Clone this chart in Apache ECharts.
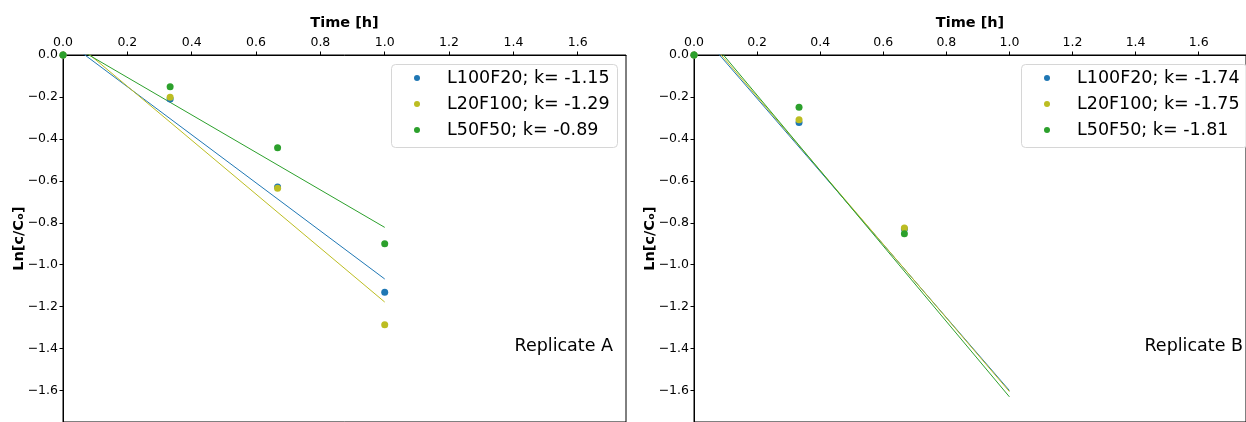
<!DOCTYPE html>
<html>
<head>
<meta charset="utf-8">
<script src="https://cdn.jsdelivr.net/npm/echarts@6/dist/echarts.min.js"></script>
<style>
html,body{margin:0;padding:0;background:#fff;}
#c{width:1246px;height:422px;}
</style>
</head>
<body>
<div id="c"></div>
<script>
// ---- data ----
const times = [0, 0.333, 0.667, 1.0];
const names = ['L100F20', 'L20F100', 'L50F50'];
const colors = ['#1f77b4', '#bcbd22', '#2ca02c'];
const xTicks = [0.0, 0.2, 0.4, 0.6, 0.8, 1.0, 1.2, 1.4, 1.6];
const yTicks = [0.0, -0.2, -0.4, -0.6, -0.8, -1.0, -1.2, -1.4, -1.6];

// Replicate A
const kA = ['-1.15', '-1.29', '-0.89'];
const ptsA_L100F20 = [0, -0.21, -0.629, -1.131];
const ptsA_L20F100 = [0, -0.202, -0.635, -1.286];
const ptsA_L50F50  = [0, -0.151, -0.442, -0.900];
const fitTimes = [0, 1.0];
const fitA_L100F20 = [0.078, -1.068];
const fitA_L20F100 = [0.108, -1.178];
const fitA_L50F50  = [0.072, -0.822];

// Replicate B (points at t=1 fall below the visible range)
const kB = ['-1.74', '-1.75', '-1.81'];
const timesB = [0, 0.333, 0.667];
const ptsB_L100F20 = [0, -0.322, -0.830];
const ptsB_L20F100 = [0, -0.309, -0.825];
const ptsB_L50F50  = [0, -0.249, -0.852];
const fitB_L100F20 = [0.141, -1.600];
const fitB_L20F100 = [0.152, -1.605];
const fitB_L50F50  = [0.168, -1.630];

const panels = [
  {k: kA, t: times, pts: [ptsA_L100F20, ptsA_L20F100, ptsA_L50F50],
   fit: [fitA_L100F20, fitA_L20F100, fitA_L50F50], label: 'Replicate A'},
  {k: kB, t: timesB, pts: [ptsB_L100F20, ptsB_L20F100, ptsB_L50F50],
   fit: [fitB_L100F20, fitB_L20F100, fitB_L50F50], label: 'Replicate B'}
];

const FONT = 'DejaVu Sans';
const gridLefts = [63, 694];
const boxLefts = [391, 1021];
const fmt = v => (v < 0 ? '\u2212' : '') + Math.abs(v).toFixed(1);

const grids = [], xAxes = [], yAxes = [], series = [], legends = [], graphics = [];
panels.forEach((p, i) => {
  grids.push({left: gridLefts[i], top: 55, width: 563, height: 372,
    show: true, borderColor: '#000', borderWidth: 1, backgroundColor: 'transparent', containLabel: false});
  xAxes.push({type: 'value', gridIndex: i, position: 'top', min: 0, max: 1.75,
    name: 'Time [h]', nameLocation: 'middle', nameGap: 23,
    nameTextStyle: {fontFamily: FONT, fontWeight: 'bold', fontSize: 14.5, color: '#000'},
    axisLine: {show: true, lineStyle: {color: '#000', width: 1}},
    axisTick: {show: true, length: 3.5, customValues: xTicks, lineStyle: {color: '#000', width: 1}},
    axisLabel: {fontFamily: FONT, fontSize: 12.5, color: '#000', margin: 6,
      customValues: xTicks, formatter: v => fmt(v)},
    splitLine: {show: false}});
  yAxes.push({type: 'value', gridIndex: i, min: -1.75, max: 0,
    name: 'Ln[c/C\u2092]', nameLocation: 'middle', nameGap: 36, nameRotate: 90,
    nameMoveOverlap: false,
    nameTextStyle: {fontFamily: FONT, fontWeight: 'bold', fontSize: 14.5, color: '#000'},
    axisLine: {show: true, onZero: false, lineStyle: {color: '#000', width: 1}},
    axisTick: {show: true, length: 3.5, customValues: yTicks, lineStyle: {color: '#000', width: 1}},
    axisLabel: {fontFamily: FONT, fontSize: 12.5, color: '#000', margin: 5,
      customValues: yTicks, formatter: v => fmt(v)},
    splitLine: {show: false}});
  const legendData = [];
  names.forEach((n, j) => {
    const sname = n + '; k= ' + p.k[j];
    legendData.push(sname);
    series.push({type: 'scatter', name: sname, xAxisIndex: i, yAxisIndex: i,
      data: p.t.map((t, q) => [t, p.pts[j][q]]), symbolSize: 7,
      itemStyle: {color: colors[j], opacity: 1}, z: 3});
    series.push({type: 'line', name: sname + ' fit', xAxisIndex: i, yAxisIndex: i,
      data: fitTimes.map((t, q) => [t, p.fit[j][q]]), showSymbol: false, symbol: 'none',
      lineStyle: {color: colors[j], width: 1}, itemStyle: {color: colors[j]},
      clip: true, silent: true, z: 2});
  });
  legends.push({orient: 'vertical', left: boxLefts[i] + 23, top: 64, data: legendData,
    icon: 'circle', itemWidth: 50, itemHeight: 6, itemGap: 6,
    padding: [4, 0, 7, 0], z: 6,
    textStyle: {fontFamily: FONT, fontSize: 17.5, color: '#000', lineHeight: 20},
    selectedMode: false});
  graphics.push({type: 'rect', left: boxLefts[i], top: 64, z: 5,
    shape: {width: 226, height: 83, r: 4},
    style: {fill: 'rgba(255,255,255,0.85)', stroke: '#d6d6d6', lineWidth: 1}});
  graphics.push({type: 'text', right: 1246 - (i === 0 ? 613 : 1243), top: 337, z: 5,
    style: {text: p.label, fontFamily: FONT, fontSize: 17.5, fill: '#000'}});
});

const chart = echarts.init(document.getElementById('c'), null, {renderer: 'canvas'});
chart.setOption({
  animation: false,
  backgroundColor: '#fff',
  grid: grids, xAxis: xAxes, yAxis: yAxes, series: series,
  legend: legends, graphic: graphics
});
</script>
</body>
</html>
